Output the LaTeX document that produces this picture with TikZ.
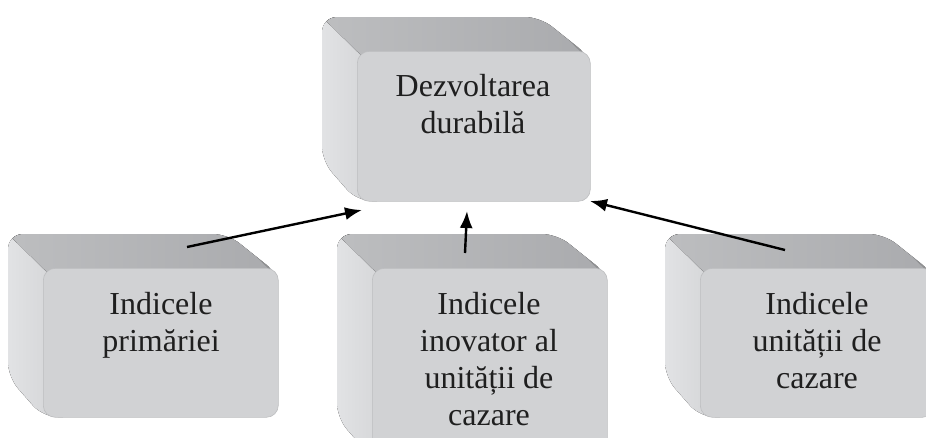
\documentclass[tikz,border=0pt]{standalone}
\usepackage{fontspec}
\setmainfont{Liberation Serif}
\usetikzlibrary{arrows.meta}
\definecolor{frontc}{HTML}{D1D2D4}
\definecolor{topc}{HTML}{A8A9AC}
\definecolor{topl}{HTML}{BDBEC0}
\definecolor{sidel}{HTML}{E3E4E6}
\definecolor{sider}{HTML}{D2D3D5}
\definecolor{edgec}{HTML}{BDBEC0}
\tikzset{
  boxtext/.style={font=\fontsize{32}{37}\selectfont, align=center, inner sep=0pt, anchor=north, text=black!88},
  arr/.style={line width=2.4pt, -{Latex[length=17pt,width=13pt]}},
}
% #1 name, #2 x, #3 y (front top-left), #4 w, #5 h
\newcommand\cubebox[5]{%
  \begin{scope}
    \clip[rounded corners=15pt] (#2-35,#3-34) -- (#2+#4-50,#3-34) -- (#2+#4,#3+6)
      -- (#2+#4,#3+#5) -- (#2,#3+#5) -- (#2-35,#3+#5-40) -- cycle;
    \fill[left color=sidel, right color=sider] (#2-40,#3-40) rectangle (#2+20,#3+#5+5);
    \fill[left color=topl, right color=topc] (#2-40,#3-39) -- (#2+#4+20,#3-39)
      -- (#2+#4+20,#3+14) -- (#2+14,#3+14) -- cycle;
    \fill[topc!85!black] (#2+#4-50,#3-39) -- (#2+#4-44,#3-39) -- (#2+#4+8,#3+6) -- (#2+#4,#3+10) -- cycle;
  \end{scope}
  \node[fill=frontc, draw=edgec, line width=0.6pt, rounded corners=12pt, minimum width=#4pt, minimum height=#5pt, inner sep=0pt, anchor=north west] (#1) at (#2,#3) {};
}
\begin{document}
\begin{tikzpicture}[x=1pt,y=-1pt]
\useasboundingbox (0,0) rectangle (926,437);
\fill[white] (0,0) rectangle (926,437);
\clip (0,0) rectangle (926,437);
\cubebox{top}{357}{51}{233}{150}
\cubebox{b1}{43}{268}{235}{149}
\cubebox{b2}{372}{268}{235}{190}
\cubebox{b3}{700}{268}{234}{149}
\node[boxtext] (ttop) at (473,74) {Dezvoltarea\\durabilă};
\node[boxtext] (t1) at (161,292) {Indicele\\primăriei};
\node[boxtext] (t2) at (489,292) {Indicele\\inovator al\\unității de\\cazare};
\node[boxtext] (t3) at (817,292) {Indicele\\unității de\\cazare};
\coordinate (s1) at (187,247);
\coordinate (e1) at (362,210);
\coordinate (s2) at (465,253);
\coordinate (e2) at (467,211);
\coordinate (s3) at (785,250);
\coordinate (e3) at (590,201);
\draw[arr] (s1) -- (e1);
\draw[arr] (s2) -- (e2);
\draw[arr] (s3) -- (e3);
\end{tikzpicture}
\end{document}
